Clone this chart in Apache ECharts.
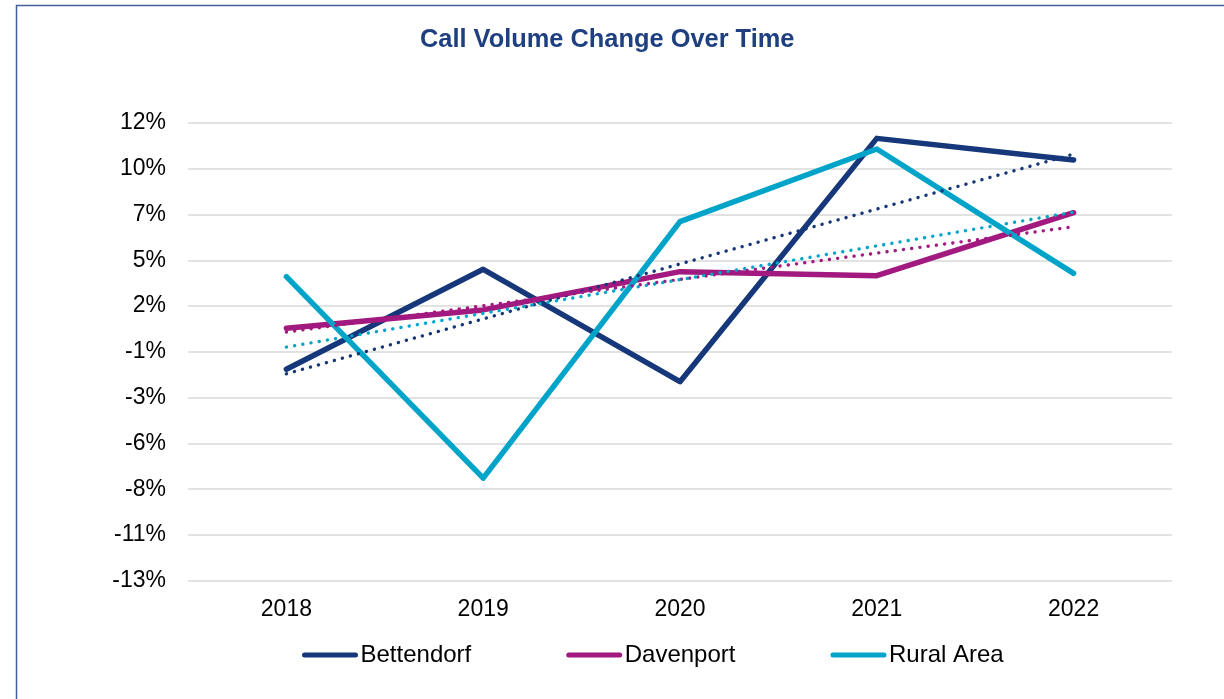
<!DOCTYPE html>
<html>
<head>
<meta charset="utf-8">
<script src="https://cdn.jsdelivr.net/npm/echarts@6/dist/echarts.min.js"></script>
<style>
  html, body { margin: 0; padding: 0; background: #ffffff; }
  #chart { width: 1224px; height: 699px; }
</style>
</head>
<body>
<div id="chart"></div>
<script>
// ---- data (percent values) ----
const years = ['2018', '2019', '2020', '2021', '2022'];
const bettendorf = [-1.45, 4.01, -2.13, 11.16, 9.98];
const davenport  = [0.79, 1.79, 3.88, 3.66, 7.10];
const ruralArea  = [3.61, -7.40, 6.61, 10.58, 3.79];
// linear trendline end values (2018, 2022)
const trendBettendorf = [-1.70, 10.30];
const trendDavenport  = [0.58, 6.33];
const trendRural      = [-0.24, 7.13];
// y axis
const yMin = -13, yMax = 12, yStep = 2.5;

const colors = { b: '#16377a', d: '#a2197f', r: '#00a4c9' };
const FONT = "'Liberation Sans', Arial, sans-serif";

function pct(v) {
  const r = Math.sign(v) * Math.round(Math.abs(v));
  return (r === 0 ? 0 : r) + '%';
}
function trendData(t) {
  return [[years[0], t[0]], [years[years.length - 1], t[1]]];
}
function mainSeries(name, data, color) {
  return {
    name: name, type: 'line', data: data, symbol: 'none', showSymbol: false, z: 2,
    lineStyle: { color: color, width: 5.5, cap: 'round', join: 'round' },
    itemStyle: { color: color }
  };
}
function trendSeries(name, t, color) {
  return {
    name: name + ' trend', type: 'line', data: trendData(t), symbol: 'none', z: 3,
    silent: true,
    lineStyle: { color: color, width: 3.4, type: [0.1, 8.2], cap: 'round' },
    itemStyle: { color: color }
  };
}

const chart = echarts.init(document.getElementById('chart'), null, { renderer: 'canvas' });
chart.setOption({
  animation: false,
  backgroundColor: '#ffffff',
  textStyle: { fontFamily: FONT },
  title: {
    text: 'Call Volume Change Over Time',
    left: 420, top: 27, padding: 0,
    textStyle: { fontFamily: FONT, fontSize: 25.4, fontWeight: 'bold', color: '#1e3f80' }
  },
  graphic: [{
    type: 'rect', silent: true, z: -1,
    shape: { x: 16.5, y: 5.5, width: 1400, height: 900 },
    style: { fill: 'none', stroke: '#40609a', lineWidth: 1.5 }
  }],
  legend: {
    orient: 'horizontal',
    data: ['Bettendorf', 'Davenport', 'Rural Area'],
    left: 302, top: 643, padding: 0,
    itemWidth: 51, itemHeight: 14, itemGap: 95,
    itemStyle: { color: 'rgba(0,0,0,0)', borderWidth: 0, opacity: 0 },
    lineStyle: { width: 5, cap: 'round' },
    textStyle: { fontFamily: FONT, fontSize: 24, color: '#000000' }
  },
  grid: { left: 188, right: 52, top: 123, bottom: 118.3, containLabel: false },
  xAxis: {
    type: 'category', data: years, boundaryGap: true,
    axisLine: { show: false }, axisTick: { show: false },
    axisLabel: { fontFamily: FONT, fontSize: 23, color: '#000000', margin: 17 },
    splitLine: { show: false }
  },
  yAxis: {
    type: 'value', min: yMin, max: yMax, interval: yStep,
    axisLine: { show: false }, axisTick: { show: false },
    axisLabel: { fontFamily: FONT, fontSize: 23, color: '#000000', margin: 22, formatter: pct },
    splitLine: { lineStyle: { color: '#d9d9d9', width: 1.5 } }
  },
  series: [
    mainSeries('Bettendorf', bettendorf, colors.b),
    mainSeries('Davenport', davenport, colors.d),
    mainSeries('Rural Area', ruralArea, colors.r),
    trendSeries('Bettendorf', trendBettendorf, colors.b),
    trendSeries('Davenport', trendDavenport, colors.d),
    trendSeries('Rural Area', trendRural, colors.r)
  ]
});
</script>
</body>
</html>
